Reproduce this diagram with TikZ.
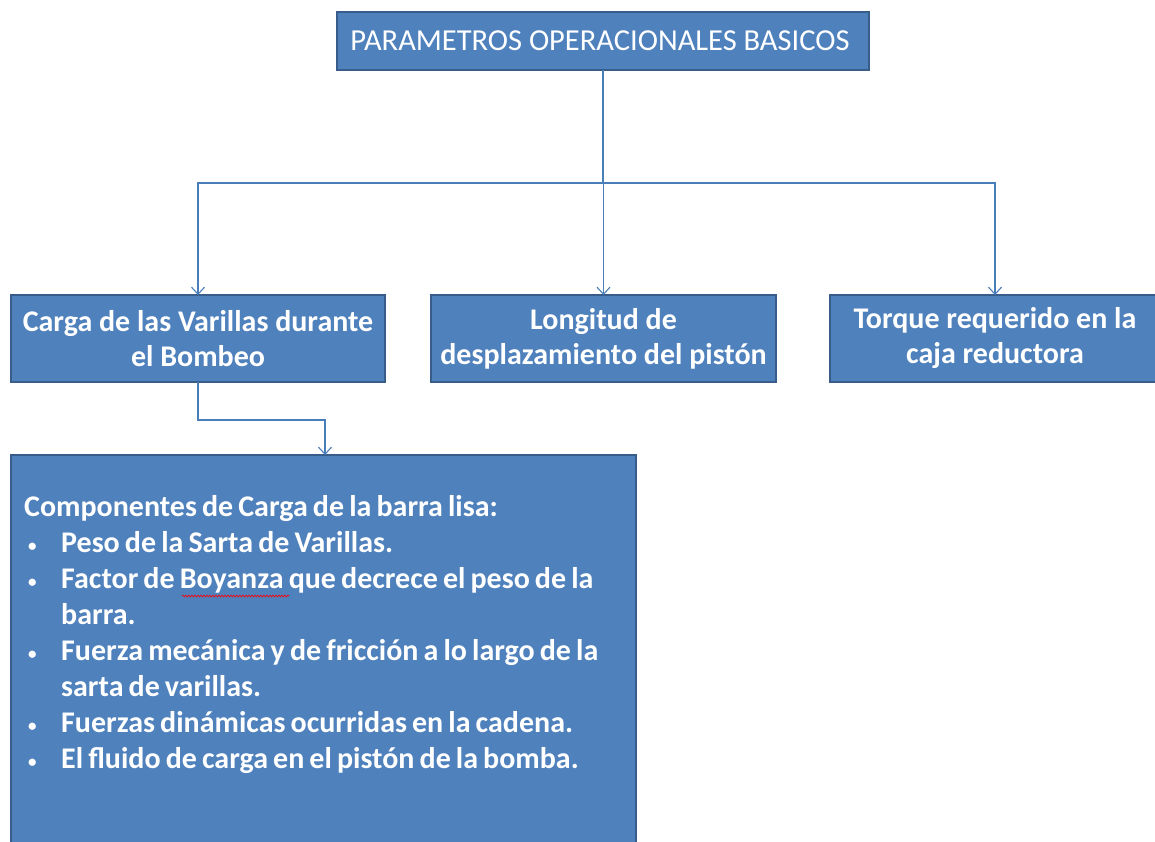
\documentclass[tikz,border=0pt]{standalone}
\usepackage{fontspec}
\setmainfont{Carlito}
\usetikzlibrary{arrows.meta,decorations.pathmorphing}
\newcommand{\vineta}{\par\hangindent=37pt\hangafter=1\noindent\makebox[37pt][l]{\hspace{4pt}\raisebox{1pt}{\fontsize{17}{17}\selectfont•}}}
\newcommand{\salto}{\hfil\break}

\begin{document}
\begin{tikzpicture}[x=1pt,y=-1pt]
    \definecolor{cajaFill}{HTML}{4F81BD}
    \definecolor{cajaBorde}{HTML}{385D8A}
    \definecolor{enlaceAzul}{HTML}{4A7EBB}
    \tikzset{
      caja/.style={draw=cajaBorde,fill=cajaFill,line width=1.5pt,text=white,inner sep=0pt,outer sep=0pt,align=center},
      enlace/.style={draw=enlaceAzul,line width=1.1pt},
      flecha/.style={enlace,-{Straight Barb[length=7pt,width=13pt]}}
    }
    \useasboundingbox (0,0) rectangle (1155,842);
    \clip (0,0) rectangle (1155,842);
    \node[caja,minimum width=532,minimum height=58,font=\fontsize{30.5}{34}\selectfont] (params) at (603,41) {\hspace{-6pt}PARAMETROS OPERACIONALES BASICOS};
    \foreach \nombre/\x/\w/\lineaA/\lineaB in {
      varillas/198/374/Carga de las Varillas durante/el Bombeo,
      longitud/603.5/345/Longitud de/desplazamiento del pistón,
      torque/995/330/Torque requerido en la/caja reductora} {
      \node[caja,minimum width=\w,minimum height=87,font=\bfseries\fontsize{30}{35}\selectfont] (\nombre) at (\x,338.5) {\lineaA\\\lineaB};
    }
    \coordinate (bus) at (603,183);
    \draw[enlace] (params.south) -- (bus);
    \foreach \nombre in {varillas,longitud,torque}
      \draw[flecha] (bus) -| (\nombre.north);
    % cuadro de componentes
    \node[caja,minimum width=625,minimum height=425] (componentes) at (323.5,667.5) {};
    \coordinate (entrada) at (325,455);
    \draw[flecha] (varillas.south) -- ++(0,38) -| (entrada);
    \node[anchor=north west,text=white,inner sep=0pt,text width=615,align=left,font=\bfseries\fontsize{30}{36}\selectfont] (lista) at (24,495) {%
      \spaceskip=0.17em\relax
      \noindent Componentes de Carga de la barra lisa:
      \vineta Peso de la Sarta de Varillas.
      \vineta Factor de Boyanza que decrece el peso de la\salto barra.
      \vineta Fuerza mecánica y de fricción a lo largo de la\salto sarta de varillas.
      \vineta Fuerzas dinámicas ocurridas en la cadena.
      \vineta El fluido de carga en el pistón de la bomba.\par};
    \draw[red,line width=0.6pt,decorate,decoration={snake,amplitude=1pt,segment length=3pt}] (182,596) -- (289,596);
\end{tikzpicture}
\end{document}
